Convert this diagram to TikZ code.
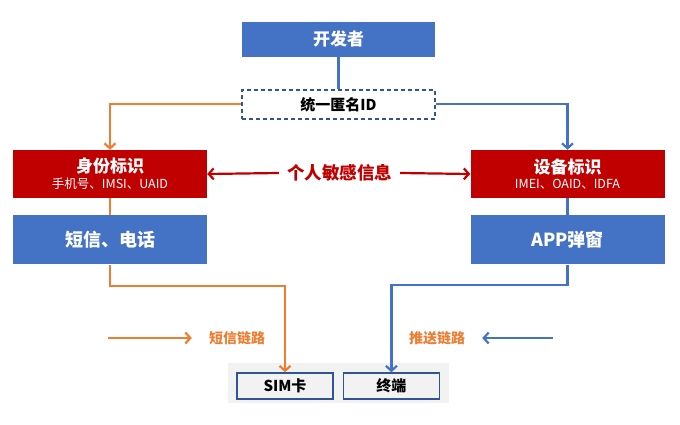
\documentclass[tikz,border=0pt]{standalone}
\usepackage{fontspec}
\setmainfont{Noto Sans CJK SC}
\usetikzlibrary{arrows.meta, positioning, backgrounds}
\definecolor{boxblue}{HTML}{4472C4}
\definecolor{boxred}{HTML}{C00000}
\definecolor{linkorange}{HTML}{ED7D31}
\definecolor{darkblue}{HTML}{2F5597}
\definecolor{traygray}{HTML}{F2F2F2}
\tikzstyle{bluebox} = [
    rectangle,
    minimum width=194pt,
    minimum height=49pt,
    text centered,
    fill=boxblue,
    text=white,
    font=\fontsize{18}{21}\selectfont\bfseries
]
\tikzstyle{redbox} = [
    rectangle,
    minimum width=194pt,
    minimum height=48pt,
    align=center,
    fill=boxred,
    text=white,
    inner sep=2pt
]
\tikzstyle{dashbox} = [
    rectangle,
    minimum width=193pt,
    minimum height=29pt,
    draw=darkblue,
    line width=1.4pt,
    dash pattern=on 4pt off 3pt,
    fill=white,
    font=\fontsize{15}{18}\selectfont\bfseries
]
\tikzstyle{termbox} = [
    rectangle,
    minimum width=96pt,
    minimum height=26pt,
    draw=darkblue,
    line width=1.4pt,
    fill=traygray,
    font=\fontsize{15}{18}\selectfont\bfseries
]
\tikzstyle{linklabel} = [
    text=linkorange,
    inner xsep=17pt,
    font=\fontsize{14}{16}\selectfont\bfseries
]
\tikzstyle{orangeline} = [
    line width=2.2pt,
    draw=linkorange,
    >={Straight Barb[length=5pt, width=11pt]}
]
\tikzstyle{blueline} = [
    line width=2.2pt,
    draw=boxblue,
    >={Straight Barb[length=5pt, width=11pt]}
]
\tikzstyle{redline} = [
    line width=2.2pt,
    draw=boxred,
    >={Straight Barb[length=5pt, width=11pt]}
]

\begin{document}
\begin{tikzpicture}[x=1pt, y=-1pt, node distance=17pt]
\useasboundingbox (0,0) rectangle (680,425);

\node (dev)  [bluebox, minimum width=193pt, minimum height=35pt,
              font=\fontsize{17}{20}\selectfont\bfseries] at (338.5,39.5) {开发者};
\node (uid)  [dashbox, below=32pt of dev] {统一匿名ID};

\node (idL)  [redbox] at (110,174)
    {{\fontsize{17}{20}\selectfont\bfseries 身份标识}\\[3pt]{\fontsize{12.5}{14}\selectfont 手机号、IMSI、UAID}};
\node (idR)  [redbox] at (567.5,174)
    {{\fontsize{17}{20}\selectfont\bfseries 设备标识}\\[3pt]{\fontsize{12.5}{14}\selectfont IMEI、OAID、IDFA}};
\node (sens) [text=boxred, inner xsep=8pt, font=\fontsize{17.5}{20}\selectfont\bfseries]
    at (339.5,173) {个人敏感信息};

\node (sms)  [bluebox, below=of idL] {短信、电话};
\node (app)  [bluebox, below=of idR] {APP弹窗};

\node (sim)  [termbox] at (285,386) {SIM卡};
\node (term) [termbox, right=9pt of sim] {终端};
\begin{scope}[on background layer]
\fill[traygray] ([shift={(-8,-9)}]sim.north west) rectangle ([shift={(9,3)}]term.south east);
\end{scope}

\node (smslab)  [linklabel] at (237,338) {短信链路};
\node (pushlab) [linklabel] at (437,338) {推送链路};
\coordinate (smsfrom)  at (108,338);
\coordinate (pushfrom) at (553,338);

% developer id to the two identifier kinds
\draw[blueline] (dev) -- (uid);
\draw[orangeline, ->] (uid.west) -| (idL.north);
\draw[blueline, ->] (uid.east) -| (idR.north);

% sensitive info
\draw[redline, ->] (sens.west) -- (idL.east);
\draw[redline, ->] (sens.east) -- (idR.west);

% channels down to the receivers
\draw[orangeline] (idL) -- (sms);
\draw[blueline] (idR) -- (app);
\draw[orangeline, ->] (sms.south) -- ++(0,21) -| (sim.north);
\draw[blueline, ->] (app.south) -- ++(0,20) -| (term.north);

\draw[orangeline, ->] (smsfrom) -- (smslab.west);
\draw[blueline, ->] (pushfrom) -- (pushlab.east);

\end{tikzpicture}
\end{document}
